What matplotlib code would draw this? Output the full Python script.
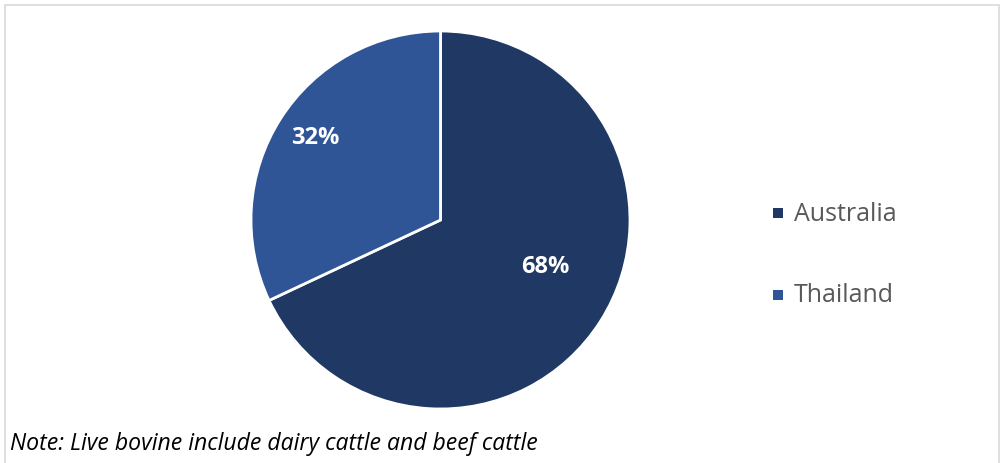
import matplotlib
matplotlib.use("Agg")
import matplotlib.pyplot as plt
from matplotlib.patches import Rectangle

categories = ["Australia", "Thailand"]
values = [68, 32]
labels = ["68%", "32%"]
colors = ["#203864", "#2F5597"]

plt.rcParams['font.family'] = ['Open Sans', 'DejaVu Sans']

W, H = 1001, 463
fig = plt.figure(figsize=(W / 100, H / 100), dpi=100)
fig.patch.set_facecolor("white")

# border
fig.patches.append(Rectangle((5 / W, -0.05), (W - 7) / W, (H - 5) / H + 0.05,
                             transform=fig.transFigure, fill=False,
                             edgecolor="#D9D9D9", linewidth=1.2))

ax = fig.add_axes([251 / W, (H - 409) / H, 379 / W, 378 / H])
wedges, texts = ax.pie(values, colors=colors, startangle=90, counterclock=False,
                       radius=1.0,
                       wedgeprops=dict(edgecolor="white", linewidth=2))
ax.set_xlim(-1.0, 1.0)
ax.set_ylim(-1.0, 1.0)
ax.set_aspect("auto")
ax.axis("off")

# data labels
pos = [(545, 267), (315, 138)]
for (px, py), lab in zip(pos, labels):
    fig.text(px / W, 1 - py / H, lab, ha="center", va="center",
             color="white", fontsize=17, fontweight="bold")

# legend
leg_items = [(214, categories[0], colors[0]), (296, categories[1], colors[1])]
for py, name, c in leg_items:
    fig.patches.append(Rectangle((773 / W, 1 - (py + 4) / H), 10 / W, 10 / H,
                                 transform=fig.transFigure, facecolor=c,
                                 edgecolor="none"))
    fig.text(794 / W, 1 - py / H, name, ha="left", va="center",
             color="#595959", fontsize=18)

fig.text(10 / W, 1 - 444 / H, "Note: Live bovine include dairy cattle and beef cattle",
         ha="left", va="center", color="black", fontsize=16.6, style="italic")

fig.savefig("out.png", dpi=100, facecolor="white")
